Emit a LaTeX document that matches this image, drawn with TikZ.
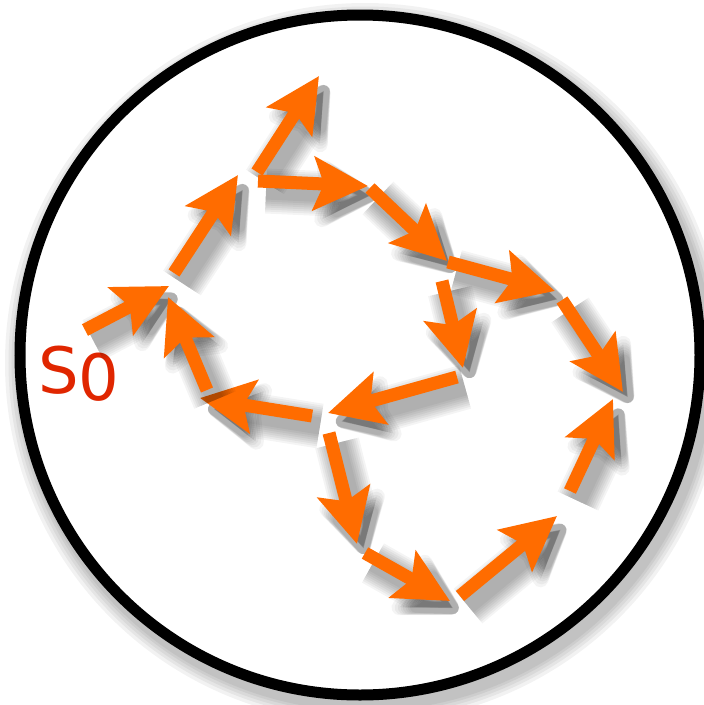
\documentclass[tikz,border=0pt]{standalone}
\usepackage{fontspec}
\setsansfont{DejaVu Sans}
\usetikzlibrary{arrows.meta}
\definecolor{walkorange}{RGB}{255,108,0}
\definecolor{startred}{RGB}{224,38,0}

\begin{document}
\begin{tikzpicture}[
  x=1pt, y=-1pt,
  soft/.style n args={3}{preaction={draw=black, opacity=0.045, line width=#1pt, line join=round,
      transform canvas={shift={(8pt,-10pt)}}, -{Stealth[round, length=#2pt, width=#3pt, inset=10pt]}}},
  walk/.style={draw=walkorange, line width=13pt, -{Stealth[length=54pt, width=53pt, inset=10pt]},
      soft={45}{72}{80}, soft={41}{69}{76}, soft={37}{66}{72}, soft={33}{63}{69},
      soft={29}{61}{66}, soft={25}{59}{62}, soft={21}{57}{59}, soft={17}{55}{56}},
  rimsoft/.style={draw=black, opacity=0.05, line width=#1pt, transform canvas={shift={(5pt,-8pt)}}},
  rim/.style={draw=black, line width=11pt}
]
\useasboundingbox (0,0) rectangle (704,705);
\fill[white] (0,0) rectangle (704,705);

% state space
\draw[rimsoft=40] (360,355) circle[radius=340];
\draw[rimsoft=33] (360,355) circle[radius=340];
\draw[rimsoft=27] (360,355) circle[radius=340];
\draw[rimsoft=21] (360,355) circle[radius=340];
\draw[rimsoft=16] (360,355) circle[radius=340];
\fill[white] (360,355) circle[radius=340];
\draw[rim] (360,355) circle[radius=340];

% start label
\node[anchor=base west, inner sep=0pt, font=\sffamily\fontsize{64}{64}\selectfont,
  text=startred] (start) at (38,393) {S\raisebox{-7pt}{0}};

% tails and heads of the steps
\coordinate (t1) at (85,330);   \coordinate (h1) at (169,286);
\coordinate (t2) at (174,273);  \coordinate (h2) at (238,175);
\coordinate (t3) at (257,172);  \coordinate (h3) at (319,76);
\coordinate (t4) at (258,181);  \coordinate (h4) at (368,186);
\coordinate (t5) at (370,188);  \coordinate (h5) at (447,261);
\coordinate (t6) at (448,262);  \coordinate (h6) at (555,291);
\coordinate (t7) at (562,300);  \coordinate (h7) at (623,392);
\coordinate (t8) at (442,281);  \coordinate (h8) at (463,368);
\coordinate (t9) at (457,377);  \coordinate (h9) at (328,413);
\coordinate (t10) at (312,416); \coordinate (h10) at (200,398);
\coordinate (t11) at (207,390); \coordinate (h11) at (168,297);
\coordinate (t12) at (329,433); \coordinate (h12) at (357,544);
\coordinate (t13) at (365,553); \coordinate (h13) at (450,601);
\coordinate (t14) at (460,596); \coordinate (h14) at (557,516);
\coordinate (t15) at (570,491); \coordinate (h15) at (613,399);

% random walk
\draw[walk] (t1) -- (h1);
\draw[walk] (t2) -- (h2);
\draw[walk] (t3) -- (h3);
\draw[walk] (t4) -- (h4);
\draw[walk] (t5) -- (h5);
\draw[walk] (t6) -- (h6);
\draw[walk] (t7) -- (h7);
\draw[walk] (t8) -- (h8);
\draw[walk] (t9) -- (h9);
\draw[walk] (t10) -- (h10);
\draw[walk] (t11) -- (h11);
\draw[walk] (t12) -- (h12);
\draw[walk] (t13) -- (h13);
\draw[walk] (t14) -- (h14);
\draw[walk] (t15) -- (h15);
\end{tikzpicture}
\end{document}
